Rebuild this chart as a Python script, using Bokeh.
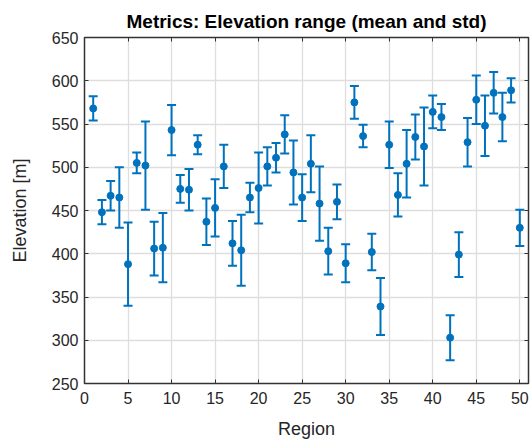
from bokeh.plotting import figure
from bokeh.models import (ColumnDataSource, Whisker, TeeHead, LinearAxis, FixedTicker, Range1d,
                          CustomJSTickFormatter)
from bokeh.embed import file_html
from bokeh.resources import INLINE

regions = list(range(1, 51))
mean_elev = [568, 448, 467, 465, 388, 505, 502, 406, 407, 543,
             475, 474, 526, 437, 453, 501, 412, 404, 465, 476,
             501, 511, 538, 494, 465, 504, 458, 403, 460, 389,
             575, 536, 402, 339, 526, 468, 504, 535, 524, 564,
             558, 303, 399, 529, 578, 548, 586, 558, 589, 430]
std_elev = [14, 14, 17, 35, 48, 12, 51, 31, 40, 29,
            16, 24, 11, 27, 33, 25, 26, 41, 17, 41,
            22, 17, 22, 37, 27, 33, 43, 27, 20, 22,
            19, 13, 21, 33, 27, 25, 39, 26, 45, 19,
            15, 26, 26, 28, 28, 35, 24, 28, 14, 21]
x_ticks = [0, 5, 10, 15, 20, 25, 30, 35, 40, 45, 50]
y_ticks = [250, 300, 350, 400, 450, 500, 550, 600, 650]

upper = [m + s for m, s in zip(mean_elev, std_elev)]
lower = [m - s for m, s in zip(mean_elev, std_elev)]
src = ColumnDataSource(dict(x=regions, y=mean_elev, upper=upper, lower=lower))

BLUE = "#0072BD"
FONT = "Liberation Sans"
TXT = "#262626"
EDGE = "#333333"

p = figure(width=532, height=444, output_backend="svg", toolbar_location=None,
           x_range=Range1d(0, 51), y_range=Range1d(250, 650),
           title="Metrics: Elevation range (mean and std)",
           min_border_left=84, min_border_right=4, min_border_top=37, min_border_bottom=61)

p.title.text_font = FONT
p.title.text_font_size = "19px"
p.title.text_font_style = "bold"
p.title.text_color = "#000000"
p.title.align = "center"
p.title.standoff = 12

p.outline_line_color = EDGE
p.outline_line_width = 1.5
p.outline_line_alpha = 1

for ax in (p.xaxis[0], p.yaxis[0]):
    ax.major_tick_in = 4
    ax.major_tick_out = 0
    ax.minor_tick_in = 0
    ax.minor_tick_out = 0
    ax.major_tick_line_color = EDGE
    ax.axis_line_color = EDGE
    ax.major_label_text_font = FONT
    ax.major_label_text_font_size = "16px"
    ax.major_label_text_color = TXT
    ax.axis_label_text_font = FONT
    ax.axis_label_text_font_size = "18px"
    ax.axis_label_text_font_style = "normal"
    ax.axis_label_text_color = TXT

p.xaxis[0].ticker = FixedTicker(ticks=x_ticks)
p.yaxis[0].ticker = FixedTicker(ticks=y_ticks)
p.xaxis[0].axis_label = "Region"
p.yaxis[0].axis_label = "Elevation [m]"
p.xaxis[0].major_label_standoff = 8
p.yaxis[0].major_label_standoff = 6
p.xaxis[0].axis_label_standoff = 12
p.yaxis[0].axis_label_standoff = 19

blank = CustomJSTickFormatter(code="return ''")
top_ax = LinearAxis(ticker=FixedTicker(ticks=x_ticks), formatter=blank,
                    major_tick_in=4, major_tick_out=0, minor_tick_in=0, minor_tick_out=0,
                    major_label_standoff=0, axis_line_color=EDGE, major_tick_line_color=EDGE)
right_ax = LinearAxis(ticker=FixedTicker(ticks=y_ticks), formatter=blank,
                      major_tick_in=4, major_tick_out=0, minor_tick_in=0, minor_tick_out=0,
                      major_label_standoff=0, axis_line_color=EDGE, major_tick_line_color=EDGE)
p.add_layout(top_ax, "above")
p.add_layout(right_ax, "right")

p.xgrid.ticker = FixedTicker(ticks=x_ticks)
p.ygrid.ticker = FixedTicker(ticks=y_ticks)
p.grid.grid_line_color = "#dedede"
p.grid.grid_line_width = 1.3

w = Whisker(source=src, base="x", upper="upper", lower="lower", dimension="height",
            line_color=BLUE, line_width=2,
            upper_head=TeeHead(size=9, line_color=BLUE, line_width=2),
            lower_head=TeeHead(size=9, line_color=BLUE, line_width=2))
p.add_layout(w)
p.scatter("x", "y", source=src, size=7, color=BLUE, marker="circle")

open("out.html", "w").write(file_html(p, INLINE))
